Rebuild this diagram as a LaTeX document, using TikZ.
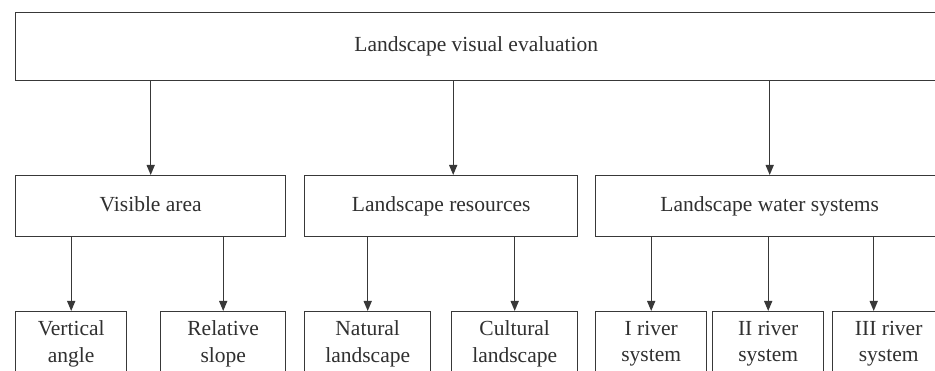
\documentclass[tikz,border=0pt]{standalone}
\usepackage{fontspec}
\newfontfamily\tmsfont{Liberation Serif}
\usetikzlibrary{arrows.meta}
\definecolor{ln}{HTML}{383838}
\definecolor{tx}{HTML}{303030}
\begin{document}
\begin{tikzpicture}[x=1pt,y=-1pt,
  box/.style={draw=ln, line width=1.4pt, text=tx, font=\tmsfont\fontsize{21.5}{26.5}\selectfont,
    align=center, inner sep=0pt, anchor=north west},
  onebox/.style={box, text height=15pt, text depth=5pt},
  arr/.style={draw=ln, line width=1.4pt, -{Triangle[length=10pt,width=8pt]}}]
\useasboundingbox (0,0) rectangle (935,371);
\clip (0,0) rectangle (935,371);
\fill[white] (0,0) rectangle (935,371);
% top
\node[onebox, minimum width=921pt, minimum height=68pt] (top) at (15,12) {Landscape visual evaluation};
% middle
\node[onebox, minimum width=270pt, minimum height=61pt] (vis) at (15,175) {Visible area};
\node[onebox, minimum width=273pt, minimum height=61pt] (res) at (304,175) {Landscape resources};
\node[onebox, minimum width=348pt, minimum height=61pt] (wat) at (595,175) {Landscape water systems};
% bottom
\node[box, minimum width=111pt, minimum height=64pt] (va) at (15,311) {Vertical\\angle};
\node[box, minimum width=125pt, minimum height=64pt] (rs) at (160,311) {Relative\\slope};
\node[box, minimum width=126pt, minimum height=64pt] (nl) at (304,311) {Natural\\landscape};
\node[box, minimum width=126pt, minimum height=64pt] (cl) at (451,311) {Cultural\\landscape};
\node[box, minimum width=111pt, minimum height=64pt] (r1) at (595,311) {I river\\system};
\node[box, minimum width=111pt, minimum height=64pt] (r2) at (712,311) {II river\\system};
\node[box, minimum width=112pt, minimum height=64pt] (r3) at (832,311) {III river\\system};
% arrows top -> middle
\draw[arr] (top.south -| vis.north) -- (vis.north);
\draw[arr] ([xshift=12pt]res.north |- top.south) -- ([xshift=12pt]res.north);
\draw[arr] (top.south -| wat.north) -- (wat.north);
% arrows middle -> bottom
\draw[arr] (vis.south -| va.north) -- (va.north);
\draw[arr] (vis.south -| rs.north) -- (rs.north);
\draw[arr] (res.south -| nl.north) -- (nl.north);
\draw[arr] (res.south -| cl.north) -- (cl.north);
\draw[arr] (wat.south -| r1.north) -- (r1.north);
\draw[arr] (wat.south -| r2.north) -- (r2.north);
\draw[arr] ([xshift=-15pt]r3.north |- wat.south) -- ([xshift=-15pt]r3.north);
\end{tikzpicture}
\end{document}
